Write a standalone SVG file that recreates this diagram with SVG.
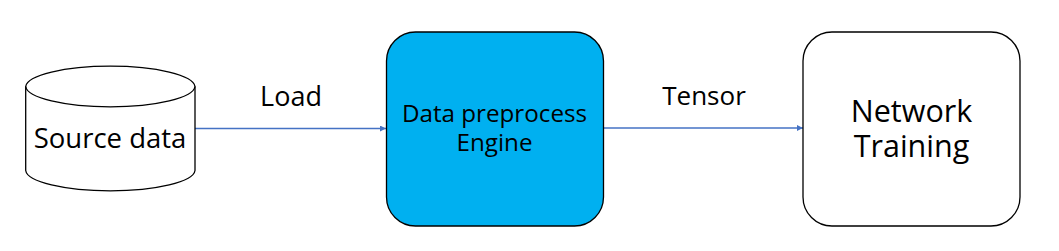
<svg xmlns="http://www.w3.org/2000/svg" width="1059" height="251" viewBox="0 0 1059 251">
<style>
text{font-family:"Open Sans","Noto Sans","Liberation Sans",sans-serif;fill:#000;text-anchor:middle}
.shape{stroke:#000;stroke-width:1.3}
.conn{stroke:#4472C4;stroke-width:1.5;fill:none}
</style>
<defs>
<marker id="arr" viewBox="0 0 10 10" refX="10" refY="5" markerWidth="4" markerHeight="4" orient="auto" markerUnits="strokeWidth">
<path d="M0,0 L10,5 L0,10 z" fill="#4472C4"/>
</marker>
</defs>
<rect width="1059" height="251" fill="#fff"/>
<g id="connectors">
<line class="conn" x1="195" y1="128.5" x2="386" y2="128.5" marker-end="url(#arr)"/>
<line class="conn" x1="603" y1="128" x2="803" y2="128" marker-end="url(#arr)"/>
<text x="291" y="105.5" font-size="27">Load</text>
<text x="704" y="105" font-size="26">Tensor</text>
</g>
<g id="source">
<path class="shape" fill="#fff" d="M25.7,86.5 L25.7,170.5 A84.7,21 0 0 0 195,170.5 L195,86.5 A84.7,21 0 0 0 25.7,86.5 Z"/>
<path class="shape" fill="none" d="M25.7,86.5 A84.7,21 0 0 0 195,86.5"/>
<text x="110" y="148" font-size="27.5">Source data</text>
</g>
<g id="engine">
<rect class="shape" x="386.5" y="32" width="217" height="194" rx="29" fill="#00B0F0"/>
<text x="494.5" y="121.5" font-size="24.2">Data preprocess</text>
<text x="494.5" y="151" font-size="24.2">Engine</text>
</g>
<g id="training">
<rect class="shape" x="803" y="32" width="217" height="194" rx="29" fill="#fff"/>
<text x="911.5" y="121.5" font-size="30.5">Network</text>
<text x="911.5" y="156.5" font-size="30.5">Training</text>
</g>
</svg>
